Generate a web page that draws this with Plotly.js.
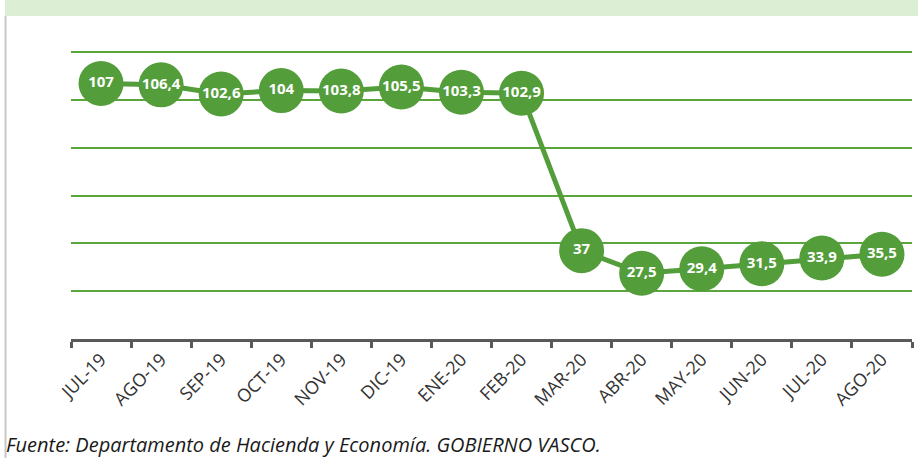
<!DOCTYPE html>
<html>
<head>
<meta charset="utf-8">
<script src="https://cdn.plot.ly/plotly-3.0.1.min.js"></script>
<style>html,body{margin:0;padding:0;background:#fff;}#chart{width:918px;height:458px;}</style>
</head>
<body>
<div id="chart"></div>
<script>
const categories = ["JUL-19","AGO-19","SEP-19","OCT-19","NOV-19","DIC-19","ENE-20","FEB-20","MAR-20","ABR-20","MAY-20","JUN-20","JUL-20","AGO-20"];
const values = [107, 106.4, 102.6, 104, 103.8, 105.5, 103.3, 102.9, 37, 27.5, 29.4, 31.5, 33.9, 35.5];
const valueLabels = values.map(v => String(v).replace('.', ','));
const sourceText = "Fuente: Departamento de Hacienda y Economía. GOBIERNO VASCO.";

const green = '#539d3b';
const W = 918, H = 458, L = 71, R = 6, T = 50, B = 119;
const pw = W - L - R, ph = H - T - B;
const px = x => (x - L) / pw;
const py = y => (H - B - y) / ph;
const FONT = '"Open Sans", Lato, sans-serif';

const trace = {
  x: categories,
  y: values,
  type: 'scatter',
  mode: 'lines+markers+text',
  line: {color: green, width: 5},
  marker: {color: green, size: 45, line: {width: 0}},
  text: valueLabels,
  textposition: 'middle center',
  textfont: {family: FONT, size: 15, color: '#ffffff', weight: 'bold'},
  cliponaxis: false,
  hoverinfo: 'skip'
};

const layout = {
  width: W, height: H,
  margin: {l: L, r: R, t: T, b: B},
  paper_bgcolor: '#ffffff',
  plot_bgcolor: '#ffffff',
  showlegend: false,
  font: {family: FONT, color: '#404040'},
  xaxis: {
    type: 'category',
    range: [-0.5, 13.5],
    tickson: 'boundaries',
    ticks: 'outside',
    ticklen: 6,
    tickwidth: 3,
    tickcolor: '#595959',
    showline: true,
    linecolor: '#595959',
    linewidth: 3,
    showgrid: false,
    tickangle: -45,
    tickfont: {family: FONT, size: 18, color: '#333333'},
    fixedrange: true
  },
  yaxis: {
    range: [0, 121],
    dtick: 20,
    showgrid: true,
    gridcolor: '#5aa63c',
    gridwidth: 2,
    showticklabels: false,
    zeroline: false,
    showline: false,
    fixedrange: true
  },
  shapes: [
    {type: 'rect', xref: 'paper', yref: 'paper', x0: px(5), x1: px(918), y0: py(16), y1: py(0),
     fillcolor: '#dcefd5', line: {width: 0}, layer: 'below'},
    {type: 'line', xref: 'paper', yref: 'paper', x0: px(5.5), x1: px(5.5), y0: py(16), y1: py(458),
     line: {color: '#c8c8c8', width: 2}}
  ],
  annotations: [
    {xref: 'paper', yref: 'paper', x: px(4), y: py(444), xanchor: 'left', yanchor: 'middle',
     text: sourceText, showarrow: false,
     font: {family: FONT, size: 20, color: '#1a1a1a', style: 'italic'}}
  ]
};

Plotly.newPlot('chart', [trace], layout, {displayModeBar: false, staticPlot: true});
</script>
</body>
</html>
